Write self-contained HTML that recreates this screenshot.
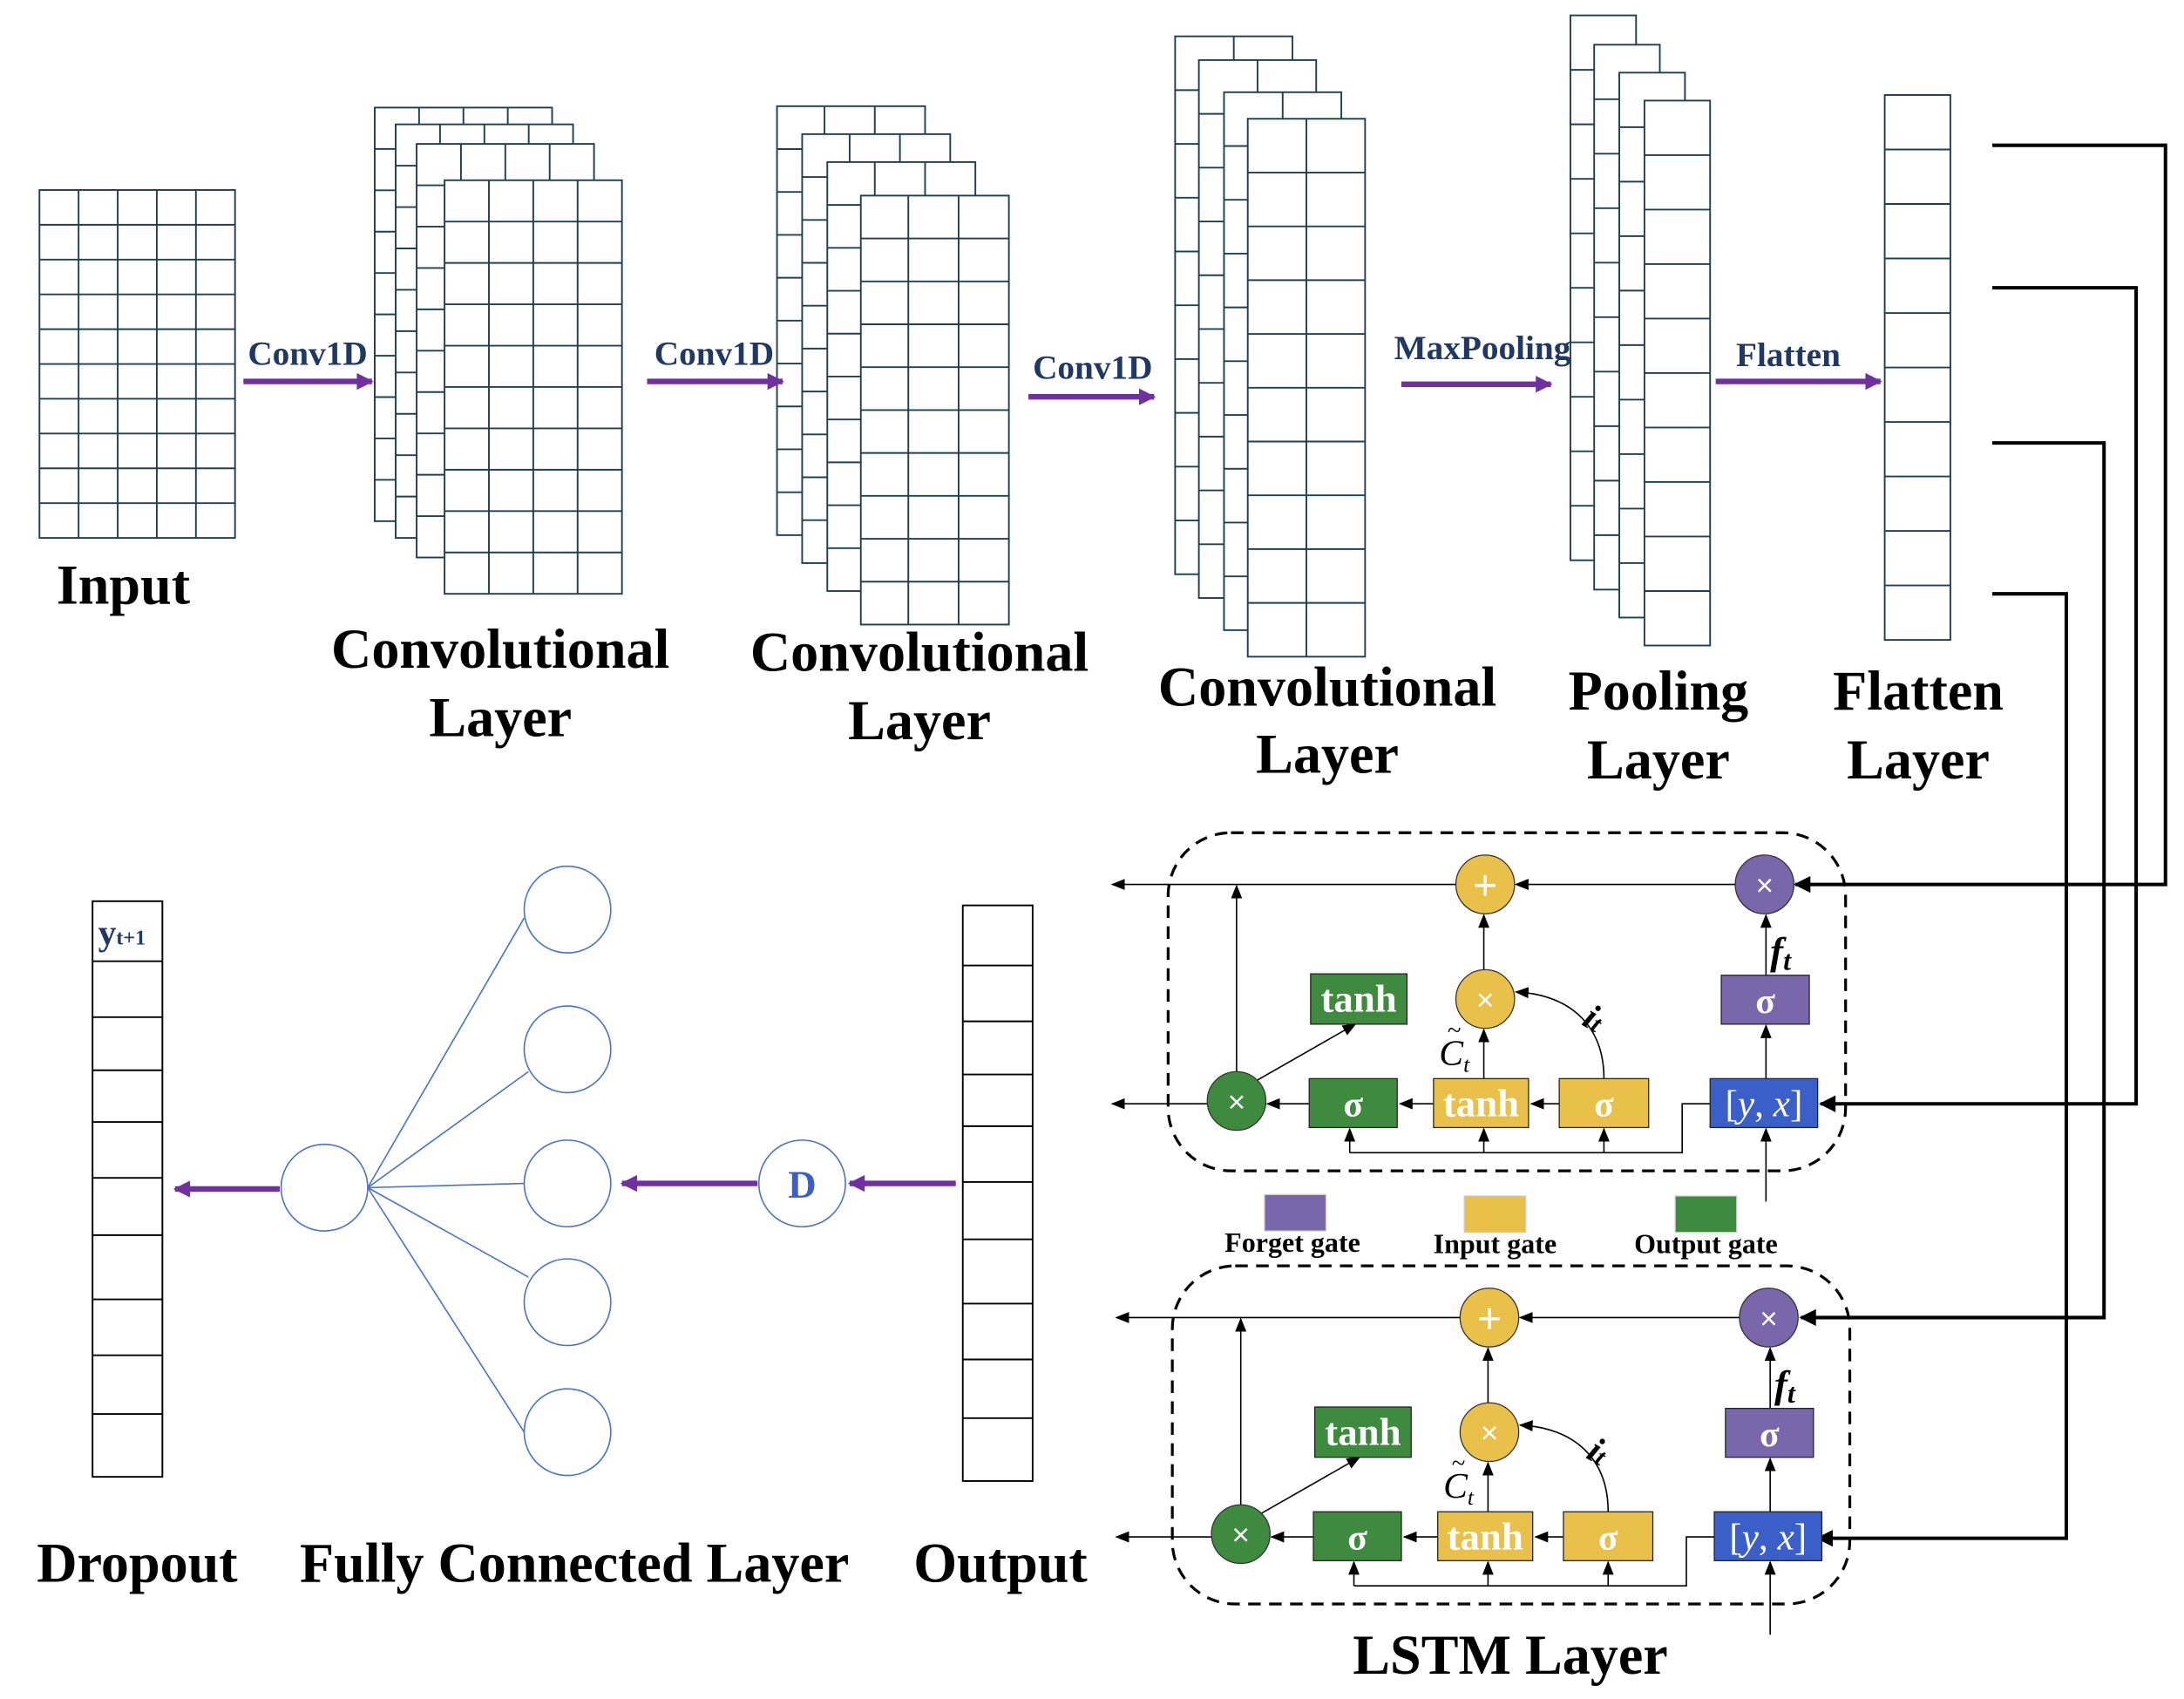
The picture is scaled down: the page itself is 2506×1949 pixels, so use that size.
<!DOCTYPE html>
<html><head><meta charset="utf-8"><style>html,body{margin:0;padding:0;background:#fff}svg{display:block}</style></head>
<body>
<svg width="2506" height="1949" viewBox="0 0 1563 1216" xmlns="http://www.w3.org/2000/svg" font-family="Liberation Serif, serif">
<defs>
<marker id="ab" viewBox="0 0 10 10" refX="9" refY="5" markerWidth="10" markerHeight="10" markerUnits="userSpaceOnUse" orient="auto"><path d="M0 1L10 5L0 9z" fill="#000"/></marker>
<marker id="abig" viewBox="0 0 10 10" refX="9" refY="5" markerWidth="14" markerHeight="12" markerUnits="userSpaceOnUse" orient="auto"><path d="M0 0L10 5L0 10z" fill="#000"/></marker>
<marker id="ap" viewBox="0 0 10 10" refX="9" refY="5" markerWidth="18" markerHeight="12" markerUnits="userSpaceOnUse" orient="auto"><path d="M0 0L10 5L0 10z" fill="#7030a0"/></marker>
<g id="inp" fill="#fff" stroke="#1f4050" stroke-width="1.2"><rect x="0" y="0" width="140" height="249"/><path d="M0 24.9h140m-140 24.9h140m-140 24.9h140m-140 24.9h140m-140 24.9h140m-140 24.9h140m-140 24.9h140m-140 24.9h140m-140 24.9h140M28 0v249m28 -249v249m28 -249v249m28 -249v249"/></g>
<g id="c1" fill="#fff" stroke="#1f4050" stroke-width="1.2"><rect x="0" y="0" width="127" height="296"/><path d="M0 29.6h127m-127 29.6h127m-127 29.6h127m-127 29.6h127m-127 29.6h127m-127 29.6h127m-127 29.6h127m-127 29.6h127m-127 29.6h127M31.75 0v296m31.75 -296v296m31.75 -296v296"/></g>
<g id="c2" fill="#fff" stroke="#1f4050" stroke-width="1.2"><rect x="0" y="0" width="106" height="307"/><path d="M0 30.7h106m-106 30.7h106m-106 30.7h106m-106 30.7h106m-106 30.7h106m-106 30.7h106m-106 30.7h106m-106 30.7h106m-106 30.7h106M34 0v307m36 -307v307"/></g>
<g id="c3" fill="#fff" stroke="#1f4050" stroke-width="1.2"><rect x="0" y="0" width="84" height="385"/><path d="M0 38.5h84m-84 38.5h84m-84 38.5h84m-84 38.5h84m-84 38.5h84m-84 38.5h84m-84 38.5h84m-84 38.5h84m-84 38.5h84M42 0v385"/></g>
<g id="c4" fill="#fff" stroke="#1f4050" stroke-width="1.2"><rect x="0" y="0" width="47" height="390"/><path d="M0 39h47m-47 39h47m-47 39h47m-47 39h47m-47 39h47m-47 39h47m-47 39h47m-47 39h47m-47 39h47"/></g>
<g id="col" fill="#fff" stroke="#000" stroke-width="1.2"><rect x="0" y="0" width="50" height="412"/><path d="M0 43h50m-50 40h50m-50 38h50m-50 37h50m-50 40h50m-50 41h50m-50 46h50m-50 40h50m-50 42h50"/></g>
<g id="lstm">
<rect x="836" y="596" width="485" height="242" rx="45" fill="none" stroke="#000" stroke-width="2" stroke-dasharray="9,6"/>
<g stroke="#000" stroke-width="1" fill="none">
<line x1="1243" y1="633" x2="1085" y2="633" marker-end="url(#ab)"/>
<line x1="1043" y1="633" x2="796" y2="633" marker-end="url(#ab)"/>
<line x1="885" y1="768" x2="885" y2="634" marker-end="url(#ab)"/>
<line x1="865" y1="790" x2="796" y2="790" marker-end="url(#ab)"/>
<line x1="937" y1="790" x2="907" y2="790" marker-end="url(#ab)"/>
<line x1="1026" y1="790" x2="1002" y2="790" marker-end="url(#ab)"/>
<line x1="1116" y1="790" x2="1096" y2="790" marker-end="url(#ab)"/>
<path d="M1224 790H1204V825H966"/>
<line x1="966" y1="825" x2="966" y2="808" marker-end="url(#ab)"/>
<line x1="1062" y1="825" x2="1062" y2="808" marker-end="url(#ab)"/>
<line x1="1148" y1="825" x2="1148" y2="808" marker-end="url(#ab)"/>
<line x1="1264" y1="860" x2="1264" y2="808" marker-end="url(#ab)"/>
<line x1="1062" y1="772" x2="1062" y2="737" marker-end="url(#ab)"/>
<line x1="1062" y1="694" x2="1062" y2="655" marker-end="url(#ab)"/>
<line x1="1264" y1="772" x2="1264" y2="734" marker-end="url(#ab)"/>
<line x1="1264" y1="698" x2="1264" y2="655" marker-end="url(#ab)"/>
<path d="M1148 772C1148 735 1125 712 1085 710" marker-end="url(#ab)"/>
<line x1="900" y1="773" x2="970" y2="733" marker-end="url(#ab)"/>
</g>
<ellipse cx="1063" cy="633" rx="21" ry="21" fill="#e8c04a" stroke="#333" stroke-width="0.8"/>
<text x="1063" y="644" font-size="30" fill="#fff" text-anchor="middle" font-family="Liberation Sans, sans-serif">+</text>
<ellipse cx="1263" cy="633" rx="21" ry="21" fill="#7a66aa" stroke="#333" stroke-width="0.8"/>
<text x="1263" y="641" font-size="22" fill="#fff" text-anchor="middle" font-family="Liberation Sans, sans-serif">×</text>
<ellipse cx="1063" cy="715" rx="21" ry="21" fill="#e8c04a" stroke="#333" stroke-width="0.8"/>
<text x="1063" y="723" font-size="22" fill="#fff" text-anchor="middle" font-family="Liberation Sans, sans-serif">×</text>
<ellipse cx="885" cy="788" rx="21" ry="21" fill="#3e8a3e" stroke="#333" stroke-width="0.8"/>
<text x="885" y="796" font-size="22" fill="#fff" text-anchor="middle" font-family="Liberation Sans, sans-serif">×</text>
<rect x="938" y="697" width="69" height="36" fill="#3e8a3e" stroke="#222" stroke-width="0.8"/>
<text x="972.5" y="724" font-size="28" font-weight="bold" fill="#fff" text-anchor="middle">tanh</text>
<rect x="1232" y="698" width="63" height="35" fill="#7a66aa" stroke="#222" stroke-width="0.8"/>
<text x="1263.5" y="725" font-size="26" font-weight="bold" fill="#fff" text-anchor="middle">σ</text>
<rect x="937" y="772" width="63" height="35" fill="#3e8a3e" stroke="#222" stroke-width="0.8"/>
<text x="968.5" y="799" font-size="26" font-weight="bold" fill="#fff" text-anchor="middle">σ</text>
<rect x="1026" y="772" width="68" height="35" fill="#e8c04a" stroke="#222" stroke-width="0.8"/>
<text x="1060" y="799" font-size="28" font-weight="bold" fill="#fff" text-anchor="middle">tanh</text>
<rect x="1116" y="772" width="64" height="35" fill="#e8c04a" stroke="#222" stroke-width="0.8"/>
<text x="1148" y="799" font-size="26" font-weight="bold" fill="#fff" text-anchor="middle">σ</text>
<rect x="1224" y="772" width="77" height="35" fill="#3b5fc9" stroke="#222" stroke-width="0.8"/>
<text x="1262.5" y="799" font-size="27" fill="#fff" text-anchor="middle">[<tspan font-style="italic">y</tspan>, <tspan font-style="italic">x</tspan>]</text>
<text x="1267" y="690" font-size="28" font-style="italic" font-weight="bold">f<tspan font-size="20" dy="4">t</tspan></text>
<text x="1134" y="737" font-size="26" font-style="italic" font-weight="bold" transform="rotate(30 1140 730)">i<tspan font-size="18">t</tspan></text>
<text x="1030" y="762" font-size="26" font-style="italic">C<tspan font-size="16" dy="5">t</tspan></text>
<text x="1036" y="743" font-size="18">~</text>
</g>
</defs>

<use href="#inp" x="28" y="136"/>
<use href="#c1" x="268" y="77"/><use href="#c1" x="283" y="89"/><use href="#c1" x="298" y="103"/><use href="#c1" x="318" y="129"/>
<use href="#c2" x="556" y="76"/><use href="#c2" x="574" y="96"/><use href="#c2" x="592" y="116"/><use href="#c2" x="616" y="140"/>
<use href="#c3" x="841" y="26"/><use href="#c3" x="858" y="43"/><use href="#c3" x="876" y="66"/><use href="#c3" x="893" y="85"/>
<use href="#c4" x="1124" y="11"/><use href="#c4" x="1141" y="32"/><use href="#c4" x="1159" y="52"/><use href="#c4" x="1177" y="72"/>
<use href="#c4" x="1349" y="68"/>

<g stroke="#7030a0" stroke-width="4" fill="none">
<line x1="174" y1="273" x2="266" y2="273" marker-end="url(#ap)"/>
<line x1="463" y1="273" x2="560" y2="273" marker-end="url(#ap)"/>
<line x1="736" y1="284" x2="826" y2="284" marker-end="url(#ap)"/>
<line x1="1003" y1="275" x2="1110" y2="275" marker-end="url(#ap)"/>
<line x1="1228" y1="273" x2="1346" y2="273" marker-end="url(#ap)"/>
<line x1="684" y1="847" x2="608" y2="847" marker-end="url(#ap)"/>
<line x1="542" y1="847" x2="445" y2="847" marker-end="url(#ap)"/>
<line x1="200" y1="851" x2="125" y2="851" marker-end="url(#ap)"/>
</g>
<g font-size="24.5" font-weight="bold" fill="#1f3864" text-anchor="middle">
<text x="220" y="261">Conv1D</text>
<text x="511" y="261">Conv1D</text>
<text x="782" y="271">Conv1D</text>
<text x="1061" y="257">MaxPooling</text>
<text x="1280" y="262">Flatten</text>
</g>
<g font-size="40" font-weight="bold" fill="#000" text-anchor="middle">
<text x="88" y="432">Input</text>
<text x="358" y="478">Convolutional</text><text x="358" y="527">Layer</text>
<text x="658" y="480">Convolutional</text><text x="658" y="529">Layer</text>
<text x="950" y="505">Convolutional</text><text x="950" y="553">Layer</text>
<text x="1187" y="508">Pooling</text><text x="1187" y="557">Layer</text>
<text x="1373" y="508">Flatten</text><text x="1373" y="557">Layer</text>
<text x="98" y="1132">Dropout</text>
<text x="411" y="1132">Fully Connected Layer</text>
<text x="716" y="1132">Output</text>
<text x="1081" y="1198">LSTM Layer</text>
</g>

<g stroke="#000" stroke-width="2.5" fill="none">
<path d="M1426 104H1550V633H1285" marker-end="url(#abig)"/>
<path d="M1426 206H1529V790H1303" marker-end="url(#abig)"/>
<path d="M1426 317H1506V943H1289" marker-end="url(#abig)"/>
<path d="M1426 425H1479V1101H1301" marker-end="url(#abig)"/>
</g>

<use href="#lstm"/>
<use href="#lstm" transform="translate(3,310)"/>

<rect x="905" y="855" width="44" height="26" fill="#7a66aa" stroke="#ccc" stroke-width="0.8"/>
<rect x="1048" y="856" width="44" height="26" fill="#e8c04a" stroke="#ccc" stroke-width="0.8"/>
<rect x="1199" y="856" width="44" height="26" fill="#3e8a3e" stroke="#ccc" stroke-width="0.8"/>
<g font-size="20" font-weight="bold" text-anchor="middle">
<text x="925" y="896">Forget gate</text>
<text x="1070" y="897">Input gate</text>
<text x="1221" y="897">Output gate</text>
</g>

<use href="#col" x="66" y="645"/>
<text x="70" y="676" font-size="26" font-weight="bold" fill="#1f3864">y<tspan font-size="15">t+1</tspan></text>
<use href="#col" x="689" y="648"/>
<g stroke="#4a72c8" stroke-width="1" fill="#fff">
<line x1="263" y1="850" x2="375" y2="657"/>
<line x1="263" y1="850" x2="378" y2="767"/>
<line x1="263" y1="850" x2="375" y2="847"/>
<line x1="263" y1="850" x2="378" y2="914"/>
<line x1="263" y1="850" x2="375" y2="1025"/>
<ellipse cx="232" cy="850" rx="31" ry="31"/>
<ellipse cx="406" cy="651" rx="31" ry="31"/>
<ellipse cx="406" cy="751" rx="31" ry="31"/>
<ellipse cx="406" cy="847" rx="31" ry="31"/>
<ellipse cx="406" cy="932" rx="31" ry="31"/>
<ellipse cx="406" cy="1025" rx="31" ry="31"/>
<ellipse cx="574" cy="847" rx="31" ry="31"/>
</g>
<text x="574" y="857" font-size="28" font-weight="bold" fill="#3b5fc9" text-anchor="middle">D</text>
</svg>
</body></html>
